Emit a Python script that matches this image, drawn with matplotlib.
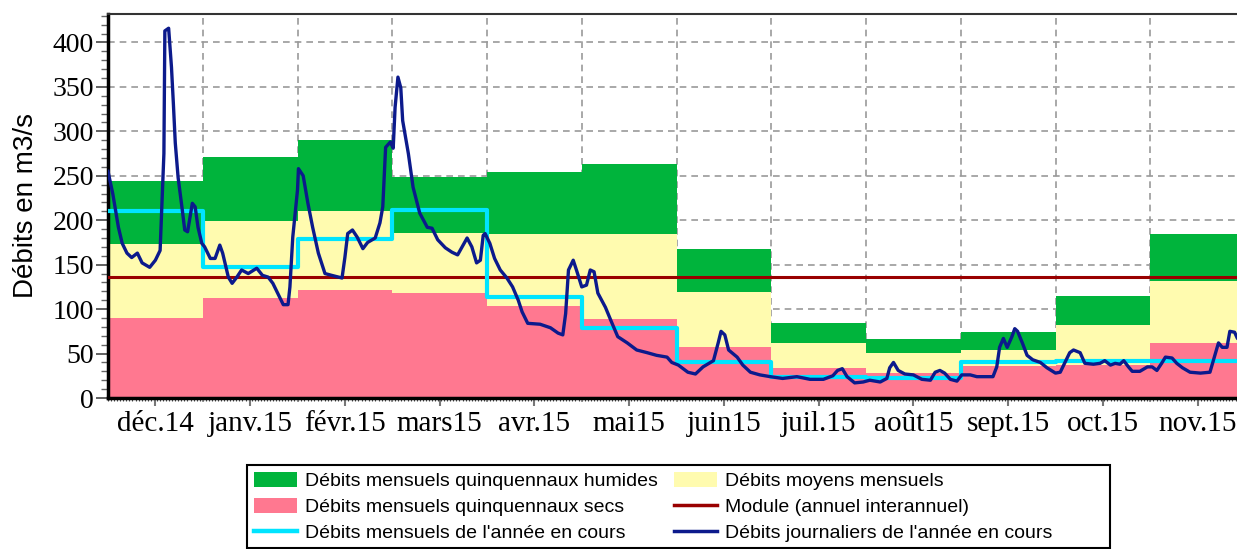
import numpy as np
import matplotlib.pyplot as plt
from matplotlib.patches import Patch, Rectangle
from matplotlib.lines import Line2D

# Mois (axe des x) : chaque mois occupe une unité
mois = ['déc.14', 'janv.15', 'févr.15', 'mars15', 'avr.15', 'mai15',
        'juin15', 'juil.15', 'août15', 'sept.15', 'oct.15', 'nov.15']
jours_mois = [31, 31, 28, 31, 30, 31, 30, 31, 31, 30, 31, 30]

# Débits mensuels (m3/s)
humides = [244, 271, 290, 249, 254, 263, 168, 84, 66, 74, 115, 184]
moyens = [173, 199, 210, 186, 184, 184, 119, 62, 51, 54, 82, 132]
secs = [90, 113, 121, 118, 103, 89, 57, 34, 28, 36, 37, 62]
mensuels = [210, 147, 179, 212, 114, 79, 41, 24, 23, 41, 42, 42]
module = 136

# Débits journaliers : position en mois (0 = 1er déc.) et valeur
t_jour = [0.00, 0.05, 0.11, 0.15, 0.20, 0.25, 0.31, 0.36, 0.44, 0.50,
          0.55, 0.57, 0.59, 0.60, 0.64, 0.67, 0.69, 0.71, 0.74, 0.78,
          0.81, 0.84, 0.89, 0.92, 0.95, 0.99, 1.02, 1.08, 1.13, 1.18,
          1.21, 1.27, 1.31, 1.36, 1.41, 1.48, 1.57, 1.63, 1.69, 1.74,
          1.79, 1.85, 1.90, 1.92, 1.95, 2.00, 2.01, 2.06, 2.11, 2.16,
          2.22, 2.29, 2.36, 2.47, 2.50, 2.53, 2.58, 2.63, 2.69, 2.74,
          2.82, 2.87, 2.90, 2.93, 2.98, 3.01, 3.03, 3.06, 3.09, 3.11,
          3.17, 3.22, 3.29, 3.37, 3.42, 3.48, 3.56, 3.63, 3.69, 3.79,
          3.84, 3.89, 3.93, 3.96, 3.98, 4.03, 4.08, 4.14, 4.21, 4.27,
          4.33, 4.37, 4.43, 4.56, 4.67, 4.75, 4.80, 4.83, 4.86, 4.91,
          4.95, 5.00, 5.05, 5.09, 5.13, 5.17, 5.25, 5.32, 5.38, 5.48,
          5.58, 5.69, 5.79, 5.90, 5.95, 6.02, 6.12, 6.20, 6.28, 6.39,
          6.44, 6.47, 6.51, 6.55, 6.64, 6.70, 6.78, 6.88, 6.99, 7.12,
          7.27, 7.41, 7.55, 7.65, 7.70, 7.75, 7.80, 7.88, 7.97, 8.04,
          8.15, 8.22, 8.25, 8.29, 8.34, 8.41, 8.50, 8.59, 8.68, 8.73,
          8.78, 8.83, 8.89, 8.96, 9.01, 9.10, 9.17, 9.24, 9.34, 9.38,
          9.41, 9.45, 9.49, 9.54, 9.57, 9.60, 9.65, 9.70, 9.76, 9.84,
          9.91, 10.00, 10.05, 10.10, 10.15, 10.19, 10.26, 10.31, 10.40, 10.47,
          10.52, 10.58, 10.63, 10.68, 10.72, 10.77, 10.81, 10.89, 10.97, 11.02,
          11.07, 11.12, 11.16, 11.23, 11.28, 11.34, 11.42, 11.53, 11.63, 11.66,
          11.72, 11.76, 11.81, 11.84, 11.89, 11.92, 12.00]
q_jour = [255, 230, 192, 174, 163, 158, 163, 152, 147, 155,
          166, 219, 275, 413, 416, 372, 331, 287, 248, 215,
          189, 187, 219, 215, 192, 174, 170, 157, 157, 172,
          163, 136, 129, 136, 144, 140, 146, 138, 136, 129,
          118, 105, 105, 125, 181, 234, 258, 250, 219, 192,
          163, 140, 138, 135, 158, 185, 189, 181, 168, 175,
          180, 197, 215, 282, 288, 281, 327, 361, 349, 312,
          275, 237, 208, 192, 191, 178, 169, 164, 161, 180,
          170, 152, 155, 183, 185, 174, 157, 144, 135, 125,
          110, 97, 84, 83, 79, 73, 71, 95, 144, 155,
          142, 125, 127, 144, 142, 118, 102, 84, 69, 62,
          54, 51, 48, 46, 40, 37, 29, 27, 35, 42,
          62, 75, 71, 54, 46, 37, 29, 26, 24, 22,
          24, 21, 21, 25, 31, 33, 24, 17, 18, 20,
          18, 22, 34, 40, 31, 27, 26, 21, 20, 29,
          31, 28, 21, 19, 26, 26, 24, 24, 24, 35,
          57, 67, 57, 69, 78, 75, 62, 48, 43, 40,
          34, 28, 29, 40, 51, 54, 51, 39, 38, 39,
          42, 37, 39, 38, 42, 35, 30, 30, 35, 35,
          31, 39, 46, 45, 39, 34, 29, 28, 29, 40,
          62, 57, 57, 75, 74, 67, 62]

vert = '#00B43C'
jaune = '#FFFBAF'
rose = '#FF7890'
cyan = '#00E4FF'
rouge = '#990000'
marine = '#0C1A8C'

plt.rcParams['font.family'] = ['Liberation Serif', 'DejaVu Serif']

W, H = 1237, 549
fig = plt.figure(figsize=(W / 100, H / 100), dpi=100)
ax = fig.add_axes([108 / W, 1 - 398 / H, (1245 - 108) / W, (398 - 14) / H])

x = np.arange(len(mois))
ax.bar(x, humides, width=1, align='edge', color=vert, linewidth=0, zorder=2)
ax.bar(x, moyens, width=1, align='edge', color=jaune, linewidth=0, zorder=2)
ax.bar(x, secs, width=1, align='edge', color=rose, linewidth=0, zorder=2)

ax.axhline(module, color=rouge, lw=2.2, zorder=3)
ax.step(np.arange(len(mois) + 1), mensuels + [mensuels[-1]], where='post',
        color=cyan, lw=3.0, zorder=4)
ax.plot(t_jour, q_jour, color=marine, lw=2.4, zorder=5)

ax.set_xlim(0, 12)
ax.set_ylim(0, 432)

# graduations
ax.set_yticks(np.arange(0, 401, 50))
ax.set_yticks(np.arange(0, 431, 10), minor=True)
ax.set_xticks(x + 0.5)
ax.set_xticklabels(mois)
ax.set_xticks(np.arange(1, 12), minor=True)
ax.tick_params(axis='y', which='major', labelsize=20, direction='out',
               length=9, width=1.3, colors='#555555', labelcolor='black', pad=1)
ax.tick_params(axis='y', which='minor', length=5, width=1, colors='#666666')
ax.tick_params(axis='x', which='major', labelsize=21, direction='out',
               length=5.5, width=1.5, colors='#777777', labelcolor='black', pad=4)
ax.tick_params(axis='x', which='minor', length=3, width=1.2, colors='#888888')

# petites graduations journalières sous l'axe
jours = np.concatenate([i + np.arange(n) / n for i, n in enumerate(jours_mois)])
ax2 = ax.secondary_xaxis('bottom')
ax2.set_xticks(jours)
ax2.tick_params(length=1.8, width=0.8, colors='#444444', labelbottom=False)
ax2.spines['bottom'].set_visible(False)

# grille : verticales aux limites des mois
for b in range(1, 12):
    ax.axvline(b, color='#999999', lw=1.2, ls=(0, (4, 3)), zorder=1)
for v in range(50, 401, 50):
    ax.axhline(v, color='#999999', lw=1.2, ls=(0, (4, 3)), zorder=1)

ax.spines['left'].set_linewidth(2.5)
ax.spines['bottom'].set_linewidth(2.5)
ax.spines['top'].set_linewidth(1.5)
ax.spines['top'].set_color('#333333')
ax.spines['right'].set_visible(False)

ax.set_ylabel('Débits en m3/s', fontsize=20, family=['Liberation Sans', 'DejaVu Sans'],
              labelpad=10)

poignees = [
    Patch(facecolor=vert, edgecolor='none'),
    Patch(facecolor=rose, edgecolor='none'),
    Line2D([], [], color=cyan, lw=3.2),
    Patch(facecolor=jaune, edgecolor='none'),
    Line2D([], [], color=rouge, lw=2.5),
    Line2D([], [], color=marine, lw=2.5),
]
textes = [
    'Débits mensuels quinquennaux humides',
    'Débits mensuels quinquennaux secs',
    "Débits mensuels de l'année en cours",
    'Débits moyens mensuels',
    'Module (annuel interannuel)',
    "Débits journaliers de l'année en cours",
]
leg = fig.legend(poignees, textes, ncol=2, loc='upper left',
                 bbox_to_anchor=(247 / W, 1 - 465 / H),
                 prop={'family': ['Liberation Sans', 'DejaVu Sans'], 'size': 14},
                 frameon=False, handlelength=2.2, handleheight=0.85,
                 handletextpad=0.45, columnspacing=0.8, labelspacing=0.38,
                 borderaxespad=0, borderpad=0.35)
fig.add_artist(Rectangle((247 / W, 1 - 548 / H), (1110 - 247) / W, (548 - 465) / H,
                         transform=fig.transFigure, fill=False,
                         edgecolor='black', linewidth=1.5))

fig.savefig('out.png', dpi=100)
